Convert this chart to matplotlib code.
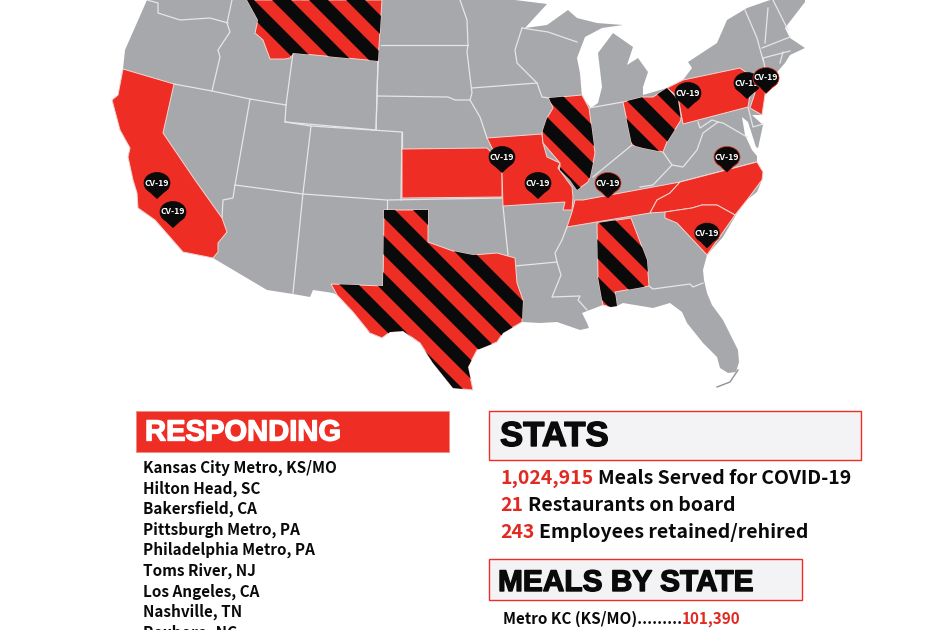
import matplotlib
matplotlib.use("Agg")
import matplotlib.pyplot as plt
import matplotlib.patheffects as pe
from matplotlib.patches import Polygon, Rectangle, Ellipse

RED = "#ee2e24"
GRAY = "#a7a8ab"
BLACK = "#0a0a0a"

# outlines, in image pixels
us_outline = [(147,0),(125,50),(123,69),(118,95),(112,100),(120,130),(130,148),(128,157),(133,180),(137,193),(138,208),
    (155,220),(183,252),(213,258),(267,290),(293,294),(310,297),(313,290),(333,293),(337,295),(353,312),(370,333),
    (382,338),(390,332),(403,331),(420,343),(433,363),(453,388),(473,390),(468,367),(477,350),(497,342),(503,333),
    (522,322),(540,323),(557,322),(580,330),(589,328),(587,323),(582,313),(603,305),(617,306),(623,303),(653,308),
    (670,303),(682,312),(687,323),(703,343),(717,357),(720,368),(728,373),(736,372),(739,362),(738,350),(733,340),
    (723,320),(712,305),(707,293),(704,280),(703,270),(707,255),(723,237),(743,203),(757,192),(762,180),(763,172),
    (757,162),(757,153),(763,125),(752,115),(762,115),(765,95),(772,78),(785,63),(790,55),(805,48),(790,38),(785,28),
    (805,2),(805,0),(770,0),(747,8),(727,20),(717,43),(688,62),(692,68),(683,80),(667,88),(643,95),(643,87),(648,72),
    (638,58),(627,65),(633,47),(613,33),(598,53),(602,87),(598,103),(591,108),(582,97),(580,73),(577,58),(585,37),
    (602,28),(623,25),(597,23),(577,18),(568,10),(547,25),(525,28),(547,4),(515,0)]

california = [(123,69),(174,84),(163,133),(195,180),(222,218),(227,232),(218,243),(218,252),(213,258),(183,252),
    (155,220),(138,208),(137,193),(133,180),(128,157),(130,148),(120,130),(112,100),(118,95)]
montana = [(247,0),(258,20),(255,33),(263,40),(270,59),(285,59),(290,58),(293,53),(378,61),(382,0)]
kansas = [(402,149),(487,148),(497,158),(502,173),(502,197),(402,198)]
missouri = [(487,138),(542,134),(543,143),(547,157),(560,163),(558,168),(572,187),(573,197),(572,210),(563,210),
    (565,202),(503,206),(502,173),(497,158)]
illinois = [(549,98),(582,95),(589,108),(595,153),(593,163),(590,177),(588,182),(577,190),(570,180),(560,170),
    (560,163),(543,143),(542,133),(547,118),(553,108)]
ohio = [(623,102),(643,97),(653,97),(667,88),(678,100),(681,120),(667,142),(663,152),(643,148),(632,145)]
pennsylvania = [(667,88),(683,80),(740,68),(753,77),(748,107),(683,124),(678,97)]
new_jersey = [(753,75),(767,80),(765,95),(762,115),(750,108),(755,93)]
tennessee = [(567,227),(572,212),(575,200),(583,200),(680,182),(670,193),(657,200),(650,213)]
north_carolina = [(757,162),(763,172),(762,180),(753,192),(747,200),(735,215),(717,205),(702,205),
    (692,208),(665,212),(650,213),(657,200),(670,193),(680,182)]
south_carolina = [(665,212),(692,208),(702,205),(717,205),(735,215),(707,255),(693,240),(677,223),(665,218)]
alabama = [(597,223),(631,218),(647,260),(649,286),(615,292),(617,306),(611,307),(603,305),(598,277)]
texas = [(331,284),(383,286),(384,210),(428,210),(428,242),(453,251),(473,255),(497,253),(515,258),(517,283),
    (523,300),(522,322),(503,333),(497,342),(477,350),(468,367),(473,390),(453,388),(433,363),(420,343),(403,331),
    (390,332),(382,338),(370,333),(353,312),(337,295)]

solid_states = [california, kansas, missouri, pennsylvania, new_jersey, tennessee, north_carolina, south_carolina]
# state, first stripe offset (y - x), number of stripes
striped_states = [(montana, -402, 5), (illinois, -467, 3), (ohio, -582, 3), (alabama, -395, 3), (texas, -222, 7)]

border_lines = [
    [(147,0),(158,3),(158,13),(180,20),(210,18),(228,23)],
    [(232,0),(227,23),(230,32),(218,50),(220,57),(212,91)],
    [(174,84),(212,91),(250,99),(286,105)],
    [(250,99),(235,185),(233,198),(223,200),(222,218)],
    [(286,105),(293,53)],
    [(286,105),(285,122),(376,130),(378,61)],
    [(311,126),(303,193),(293,293)],
    [(235,185),(303,194),(387,200),(502,198)],
    [(285,122),(311,126),(402,132),(401,200)],
    [(402,132),(402,149)],
    [(387,200),(387,210)],
    [(377,96),(448,97),(455,100),(470,100),(480,117),(487,138)],
    [(381,45),(468,45)],
    [(460,0),(467,20),(468,45),(467,52),(472,93),(470,100)],
    [(378,61),(377,96),(376,130)],
    [(472,88),(537,83)],
    [(522,28),(515,50),(517,63),(537,83),(542,97),(549,98)],
    [(522,28),(548,32),(577,42)],
    [(589,108),(623,102)],
    [(632,145),(610,163),(593,177)],
    [(663,152),(672,165),(653,185),(640,187)],
    [(672,165),(683,167),(697,150),(703,133),(718,122),(723,123),(747,137)],
    [(698,122),(700,128),(712,120),(718,122)],
    [(748,107),(753,127),(763,124)],
    [(503,206),(508,255)],
    [(515,266),(557,262)],
    [(567,227),(562,240),(555,253),(557,262),(561,275),(552,297),(580,296),(578,300),(587,310)],
    [(649,286),(653,289),(690,284),(693,287),(703,283)],
    [(745,10),(757,38),(763,60)],
    [(768,8),(765,43)],
    [(773,0),(788,30)],
    [(762,48),(790,37)],
    [(763,58),(790,51)],
    [(783,52),(780,63)],
    [(763,58),(765,68)],
    [(680,182),(757,162)],
]
chesapeake = [(742,117),(748,122),(756,147),(766,152),(757,156),(752,150),(745,135)]
keys_line = [(717,387),(730,382),(738,370)]

pin_x = [157, 173, 502, 538, 608, 688, 747, 766, 727, 707]
pin_y = [183, 212, 157, 183, 183, 93, 83, 78, 157, 233]
pin_outlined = [False, False, False, False, True, False, False, True, True, True]

responding_cities = ["Kansas City Metro, KS/MO", "Hilton Head, SC", "Bakersfield, CA", "Pittsburgh Metro, PA",
    "Philadelphia Metro, PA", "Toms River, NJ", "Los Angeles, CA", "Nashville, TN", "Roxboro, NC"]
stat_numbers = ["1,024,915", "21", "243"]
stat_labels = ["Meals Served for COVID-19", "Restaurants on board", "Employees retained/rehired"]
state_meals_label = "Metro KC (KS/MO)........."
state_meals_value = "101,390"

plt.rcParams['font.family'] = ['Noto Sans CJK SC', 'DejaVu Sans']

fig = plt.figure(figsize=(9.36, 6.3), dpi=100)
ax = fig.add_axes([0, 0, 1, 1])
ax.set_xlim(0, 936)
ax.set_ylim(630, 0)
ax.axis('off')

# --- map ---
ax.add_patch(Polygon(us_outline, closed=True, facecolor=GRAY, edgecolor='none', zorder=1))
ax.add_patch(Polygon(chesapeake, closed=True, facecolor='white', edgecolor='none', zorder=1.5))
for line in border_lines:
    xs, ys = zip(*line)
    ax.plot(xs, ys, color='#e6e6e8', lw=0.9, zorder=2, solid_joinstyle='round')
xs, ys = zip(*keys_line)
ax.plot(xs, ys, color='#8f9094', lw=1.0, zorder=2)

for state in solid_states:
    ax.add_patch(Polygon(state, closed=True, facecolor=RED, edgecolor='#f6d5d2', lw=0.7, zorder=3))

for state, offset, count in striped_states:
    shape = Polygon(state, closed=True, facecolor=RED, edgecolor='#f6d5d2', lw=0.7, zorder=3)
    ax.add_patch(shape)
    period = 37
    band = 19
    x0 = min(p[0] for p in state) - 5
    x1 = max(p[0] for p in state) + 5
    for k in range(count):
        c = offset + k * period
        stripe = Polygon([(x0, x0 + c), (x1, x1 + c), (x1, x1 + c + band), (x0, x0 + c + band)],
                         closed=True, facecolor=BLACK, edgecolor='none', zorder=3.5)
        ax.add_patch(stripe)
        stripe.set_clip_path(shape)

# --- pins ---
for i, (px, py, outlined) in enumerate(zip(pin_x, pin_y, pin_outlined)):
    edge = RED if outlined else BLACK
    z = 5 + i * 0.1
    ax.add_patch(Polygon([(px - 11.5, py + 5), (px, py + 15.5), (px + 11.5, py + 5)], closed=True,
                         facecolor=BLACK, edgecolor=edge, lw=0.5, zorder=z))
    ax.add_patch(Ellipse((px, py), 26, 21, facecolor=BLACK, edgecolor=edge, lw=0.5, zorder=z))
    ax.add_patch(Polygon([(px - 10, py + 5), (px, py + 15), (px + 10, py + 5)], closed=True,
                         facecolor=BLACK, edgecolor='none', zorder=z))
    ax.text(px, py, "CV-19", color='white', fontsize=6.2, fontweight='bold', ha='center', va='center', zorder=z)

# --- panels ---
ax.add_patch(Rectangle((136, 411), 313, 41, facecolor=RED, edgecolor='#f08a84', lw=0.6, zorder=1))
ax.add_patch(Rectangle((489, 411), 372, 49, facecolor='#f3f3f5', edgecolor=RED, lw=1.0, zorder=1))
ax.add_patch(Rectangle((489, 559), 313, 41, facecolor='#f3f3f5', edgecolor=RED, lw=1.0, zorder=1))

def heading(x, y, label, color, size):
    ax.text(x, y, label, color=color, fontsize=size, fontweight='bold', family='Liberation Sans',
            ha='left', va='center', zorder=4,
            path_effects=[pe.withStroke(linewidth=1.0, foreground=color)])

heading(145, 432.5, "RESPONDING", 'white', 21)
heading(500, 436.5, "STATS", BLACK, 25)
heading(498, 583, "MEALS BY STATE", BLACK, 21.5)

for k, city in enumerate(responding_cities):
    ax.text(143, 468 + k * 20.55, city, color=BLACK, fontsize=11.0, fontweight='bold',
            ha='left', va='center', zorder=4)

# number and label sit side by side, so measure the number first
renderer = fig.canvas.get_renderer()
for k, (number, label) in enumerate(zip(stat_numbers, stat_labels)):
    y = 479 + k * 26.5
    t = ax.text(500, y, number, color='#e02a22', fontsize=14.0, fontweight='bold', ha='left', va='center', zorder=4)
    right = ax.transData.inverted().transform(t.get_window_extent(renderer))[1][0]
    ax.text(right + 4.5, y, label, color=BLACK, fontsize=14.0, fontweight='bold', ha='left', va='center', zorder=4)

t = ax.text(503, 619, state_meals_label, color=BLACK, fontsize=11.0, fontweight='bold', ha='left', va='center', zorder=4)
right = ax.transData.inverted().transform(t.get_window_extent(renderer))[1][0]
ax.text(right, 619, state_meals_value, color='#e02a22', fontsize=11.0, fontweight='bold', ha='left', va='center', zorder=4)

fig.savefig("out.png", dpi=100)
